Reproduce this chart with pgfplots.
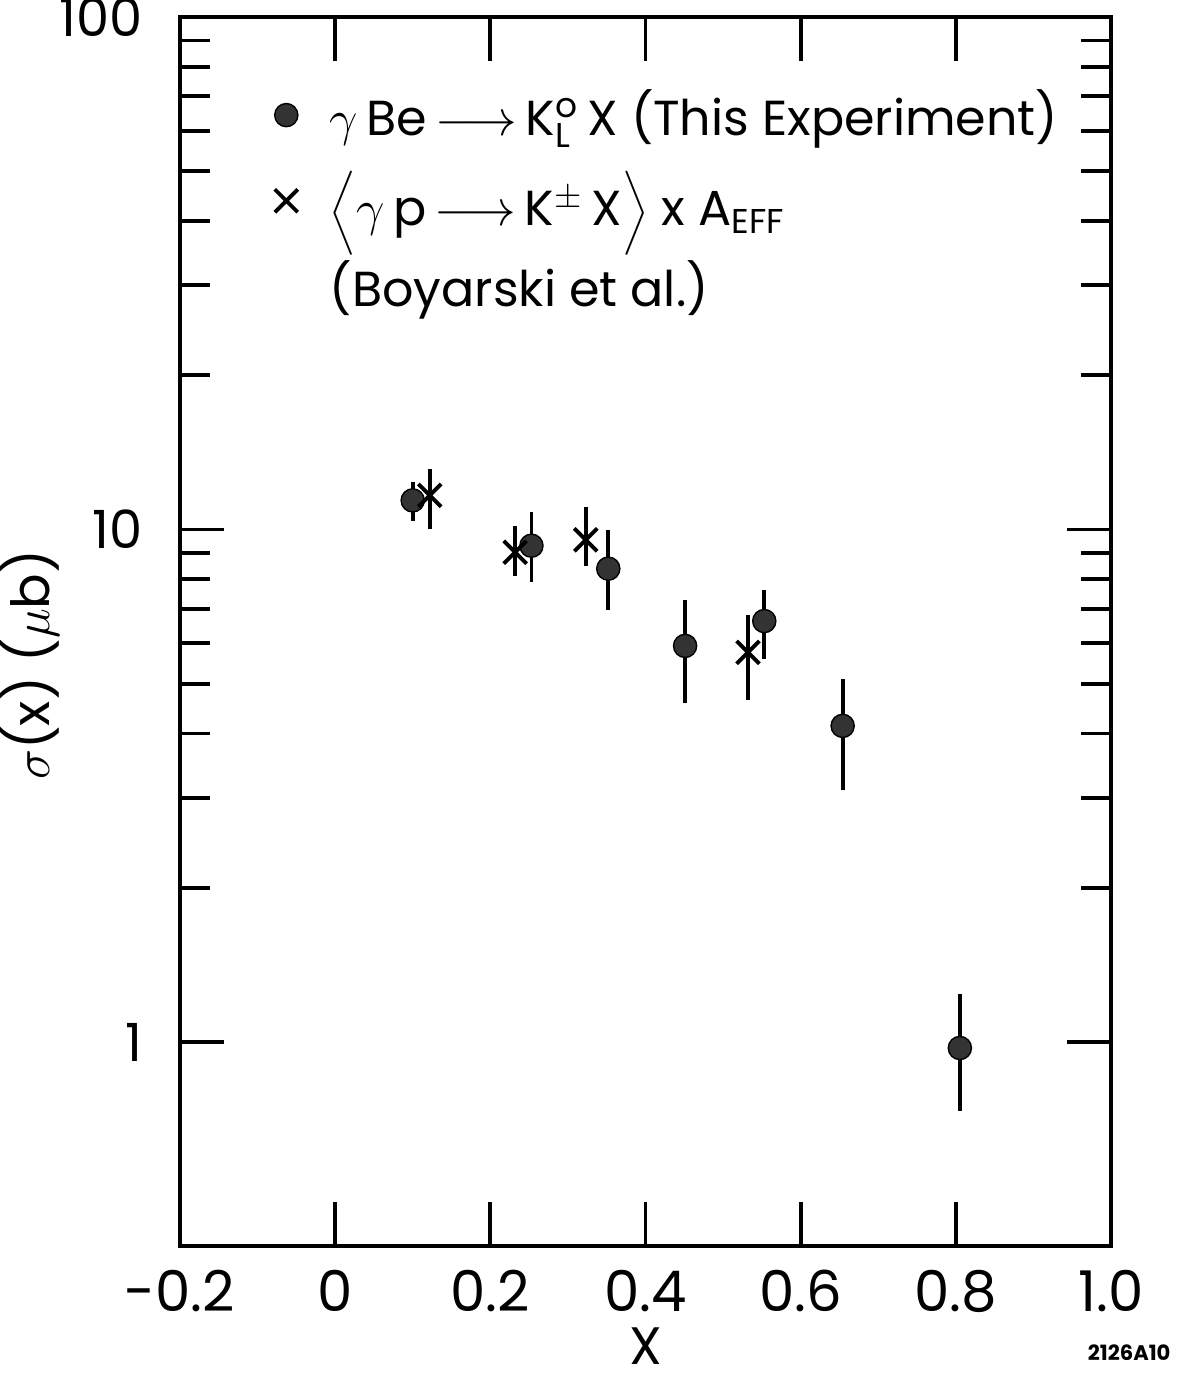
\documentclass[border=0pt]{standalone}
\usepackage{fontspec}
\setmainfont{Poppins}
\usepackage{pgfplots}
\usepackage{pgfplotstable}
\pgfplotsset{compat=1.18}

% gamma Be -> K0L X (this experiment): x, y, error up, error down
\pgfplotstableread{
x     y     ep    em
0.100 11.4  1.00  1.00
0.253 9.30  1.50  1.40
0.352 8.39  1.60  1.43
0.451 5.93  1.37  1.35
0.553 6.63  1.01  1.03
0.654 4.14  0.96  1.04
0.805 0.974 0.27  0.24
}\beData

% <gamma p -> K+- X> x A_eff (Boyarski et al.)
\pgfplotstableread{
x     y     ep    em
0.122 11.66 1.48  1.63
0.232 9.03  1.11  0.91
0.323 9.55  1.51  1.07
0.532 5.76  1.06  1.10
}\pData

\begin{document}
\begin{tikzpicture}
\begin{axis}[
  name=ax,
  width=9.32cm, height=12.30cm, scale only axis,
  xmin=-0.2, xmax=1.0,
  ymode=log, ymin=0.4, ymax=100,
  xtick={-0.2,0,0.2,0.4,0.6,0.8,1.0},
  xticklabels={-0.2,0,0.2,0.4,0.6,0.8,1.0},
  ytick={1,10,100},
  yticklabels={1,10,100},
  major tick length=0.44cm,
  minor tick length=0.30cm,
  axis line style={line width=1.1pt},
  every tick/.style={black, line width=1.1pt},
  x tick label style={font=\fontsize{16}{16}\selectfont, yshift=-0.12cm},
  y tick label style={font=\fontsize{15}{15}\selectfont, xshift=-0.25cm},
  xlabel={X},
  ylabel={$\sigma$(x) ($\mu$b)},
  every axis x label/.style={at={(rel axis cs:0.5,0)}, anchor=center, inner sep=0pt,
                             yshift=-1.0cm, font=\fontsize{15}{15}\selectfont},
  every axis y label/.style={at={(rel axis cs:0,0.473)}, anchor=center, rotate=90,
                             yshift=1.5cm, font=\fontsize{15}{15}\selectfont},
  legend cell align=left,
  legend style={at={(0.07,0.953)}, anchor=north west, draw=none, fill=none,
                font=\fontsize{14}{17}\selectfont, row sep=0.16cm,
                /tikz/every odd column/.append style={column sep=0.25cm}},
  error bars/y dir=both, error bars/y explicit,
  error bars/error mark=none,
  error bars/error bar style={line width=1.1pt, black},
]
\addplot[only marks, mark=*, mark size=3.3pt, draw=black, fill=black!80]
  table[x=x, y=y, y error plus=ep, y error minus=em] {\beData};
\addlegendentry{$\gamma\,$Be$\,\longrightarrow\,$K$^{\mathrm{o}}_{\mathrm{L}}\,$X (This Experiment)}
\addplot[only marks, mark=x, mark size=4.6pt, mark options={line width=1.1pt}, black]
  table[x=x, y=y, y error plus=ep, y error minus=em] {\pData};
\addlegendentry{$\bigg\langle\gamma\,$p$\,\longrightarrow\,$K$^{\pm}\,$X$\bigg\rangle$ x A\textsubscript{EFF}}
\addlegendimage{empty legend}
\addlegendentry{(Boyarski et al.)}
\end{axis}
\node[font=\bfseries\fontsize{6}{6}\selectfont] at ([shift={(0.18cm,-1.07cm)}]ax.south east) {2126A10};
\pgfresetboundingbox
\path[use as bounding box] ([shift={(-1.80cm,-1.32cm)}]ax.south west)
  rectangle ([shift={(0.69cm,0.17cm)}]ax.north east);
\end{tikzpicture}
\end{document}
